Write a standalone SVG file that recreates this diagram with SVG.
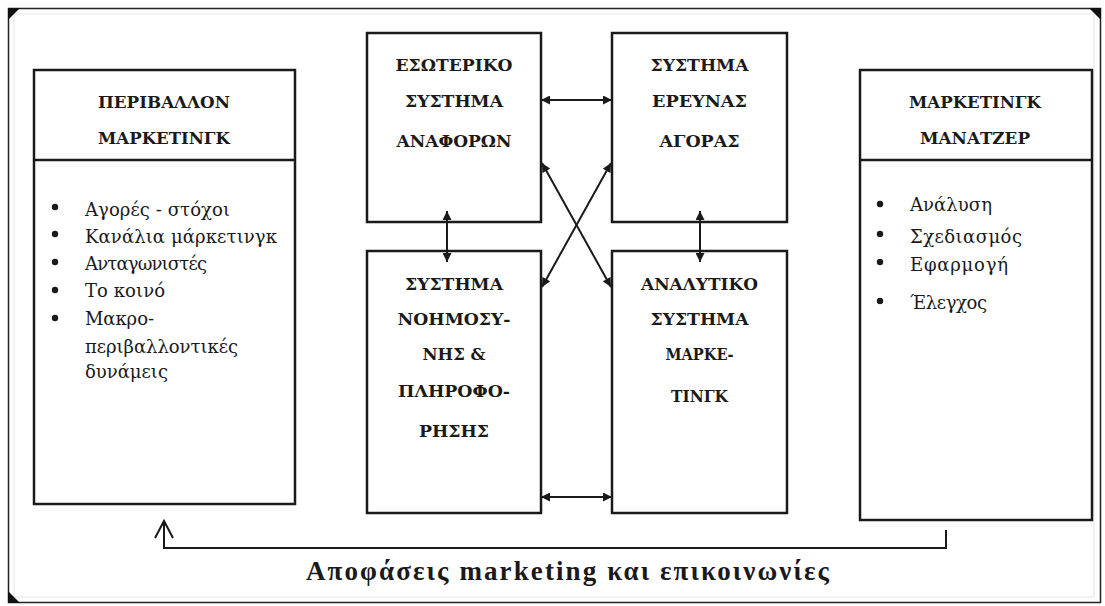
<svg xmlns="http://www.w3.org/2000/svg" width="1105" height="606" viewBox="0 0 1105 606">
  <defs>
    <style>
      .box { fill: #ffffff; stroke: #1a1a1a; stroke-width: 2.5; }
      .div { stroke: #1a1a1a; stroke-width: 2.5; }
      .link { fill: none; stroke: #1a1a1a; stroke-width: 2; }
      .hd { font-family: "DejaVu Serif", "Liberation Serif", serif; font-weight: bold; font-size: 17px; text-anchor: middle; fill: #1a1a1a; }
      .it { font-family: "DejaVu Serif", "Liberation Serif", serif; font-size: 18px; fill: #1a1a1a; }
      .cap { font-family: "Liberation Serif", "DejaVu Serif", serif; font-weight: bold; font-size: 27px; fill: #1a1a1a; }
      .dot { fill: #1a1a1a; }
    </style>
    <marker id="ah" viewBox="0 0 10 10" refX="10" refY="5" markerWidth="10" markerHeight="9" markerUnits="userSpaceOnUse" orient="auto-start-reverse">
      <path d="M0,0 L10,5 L0,10 z" fill="#1a1a1a"/>
    </marker>
  </defs>

  <!-- page background and frame -->
  <rect x="0" y="0" width="1105" height="606" fill="#ffffff"/>
  <rect x="14" y="14" width="1080" height="583" fill="none" stroke="#eeeeee" stroke-width="1.5"/>
  <rect x="8.5" y="8.5" width="1092" height="594" fill="none" stroke="#222222" stroke-width="1.5"/>
  <path d="M8,8 L20,8 L8,20 z" fill="#111"/>
  <path d="M1101,8 L1089,8 L1101,20 z" fill="#111"/>
  <path d="M8,603 L20,603 L8,591 z" fill="#111"/>

  <!-- marketing environment -->
  <g id="environment">
    <rect class="box" x="34" y="70" width="261" height="434"/>
    <line class="div" x1="34" y1="160" x2="295" y2="160"/>
    <text class="hd" x="164" y="108" textLength="132" lengthAdjust="spacingAndGlyphs">ΠΕΡΙΒΑΛΛΟΝ</text>
    <text class="hd" x="164" y="144" textLength="132" lengthAdjust="spacingAndGlyphs">ΜΑΡΚΕΤΙΝΓΚ</text>
    <circle class="dot" cx="55" cy="207" r="3.2"/>
    <circle class="dot" cx="55" cy="234" r="3.2"/>
    <circle class="dot" cx="55" cy="262" r="3.2"/>
    <circle class="dot" cx="55" cy="290" r="3.2"/>
    <circle class="dot" cx="55" cy="318" r="3.2"/>
    <text class="it" x="85" y="216" textLength="145" lengthAdjust="spacing">Αγορές - στόχοι</text>
    <text class="it" x="85" y="243" textLength="192" lengthAdjust="spacing">Κανάλια μάρκετινγκ</text>
    <text class="it" x="85" y="270" textLength="122" lengthAdjust="spacing">Ανταγωνιστές</text>
    <text class="it" x="85" y="297" textLength="80" lengthAdjust="spacing">Το κοινό</text>
    <text class="it" x="85" y="325" textLength="69" lengthAdjust="spacing">Μακρο-</text>
    <text class="it" x="85" y="353" textLength="153" lengthAdjust="spacing">περιβαλλοντικές</text>
    <text class="it" x="85" y="378" textLength="83" lengthAdjust="spacing">δυνάμεις</text>
  </g>

  <!-- internal reporting system -->
  <g id="internal-reports">
    <rect class="box" x="367" y="33" width="174" height="189"/>
    <text class="hd" x="454" y="71" textLength="117" lengthAdjust="spacingAndGlyphs">ΕΣΩΤΕΡΙΚΟ</text>
    <text class="hd" x="454" y="107" textLength="98" lengthAdjust="spacingAndGlyphs">ΣΥΣΤΗΜΑ</text>
    <text class="hd" x="454" y="147" textLength="115" lengthAdjust="spacingAndGlyphs">ΑΝΑΦΟΡΩΝ</text>
  </g>

  <!-- market research system -->
  <g id="market-research">
    <rect class="box" x="612" y="33" width="175" height="189"/>
    <text class="hd" x="699.5" y="71" textLength="98" lengthAdjust="spacingAndGlyphs">ΣΥΣΤΗΜΑ</text>
    <text class="hd" x="699.5" y="107" textLength="95" lengthAdjust="spacingAndGlyphs">ΕΡΕΥΝΑΣ</text>
    <text class="hd" x="699.5" y="147" textLength="80" lengthAdjust="spacingAndGlyphs">ΑΓΟΡΑΣ</text>
  </g>

  <!-- intelligence system -->
  <g id="intelligence">
    <rect class="box" x="367" y="251" width="174" height="262"/>
    <text class="hd" x="454" y="290" textLength="98" lengthAdjust="spacingAndGlyphs">ΣΥΣΤΗΜΑ</text>
    <text class="hd" x="454" y="325" textLength="113" lengthAdjust="spacingAndGlyphs">ΝΟΗΜΟΣΥ-</text>
    <text class="hd" x="454" y="360" textLength="63" lengthAdjust="spacingAndGlyphs">ΝΗΣ &amp;</text>
    <text class="hd" x="454" y="397" textLength="112" lengthAdjust="spacingAndGlyphs">ΠΛΗΡΟΦΟ-</text>
    <text class="hd" x="454" y="437" textLength="70" lengthAdjust="spacingAndGlyphs">ΡΗΣΗΣ</text>
  </g>

  <!-- analytical marketing system -->
  <g id="analytics">
    <rect class="box" x="612" y="251" width="175" height="262"/>
    <text class="hd" x="699.5" y="290" textLength="117" lengthAdjust="spacingAndGlyphs">ΑΝΑΛΥΤΙΚΟ</text>
    <text class="hd" x="699.5" y="325" textLength="98" lengthAdjust="spacingAndGlyphs">ΣΥΣΤΗΜΑ</text>
    <text class="hd" x="699.5" y="360" textLength="68" lengthAdjust="spacingAndGlyphs">ΜΑΡΚΕ-</text>
    <text class="hd" x="699.5" y="402" textLength="57" lengthAdjust="spacingAndGlyphs">ΤΙΝΓΚ</text>
  </g>

  <!-- marketing managers -->
  <g id="managers">
    <rect class="box" x="860" y="70" width="232" height="450"/>
    <line class="div" x1="860" y1="160" x2="1092" y2="160"/>
    <text class="hd" x="975" y="108" textLength="132" lengthAdjust="spacingAndGlyphs">ΜΑΡΚΕΤΙΝΓΚ</text>
    <text class="hd" x="975" y="144" textLength="110" lengthAdjust="spacingAndGlyphs">ΜΑΝΑΤΖΕΡ</text>
    <circle class="dot" cx="880" cy="204" r="3.2"/>
    <circle class="dot" cx="880" cy="234" r="3.2"/>
    <circle class="dot" cx="880" cy="262" r="3.2"/>
    <circle class="dot" cx="880" cy="301" r="3.2"/>
    <text class="it" x="910" y="211" textLength="82" lengthAdjust="spacing">Ανάλυση</text>
    <text class="it" x="910" y="243" textLength="112" lengthAdjust="spacing">Σχεδιασμός</text>
    <text class="it" x="910" y="271" textLength="98" lengthAdjust="spacing">Εφαρμογή</text>
    <text class="it" x="910" y="309" textLength="77" lengthAdjust="spacing">Έλεγχος</text>
  </g>

  <!-- connectors -->
  <g id="connectors">
    <line class="link" x1="541" y1="100" x2="612" y2="100" marker-start="url(#ah)" marker-end="url(#ah)"/>
    <line class="link" x1="541" y1="497" x2="612" y2="497" marker-start="url(#ah)" marker-end="url(#ah)"/>
    <line class="link" x1="447" y1="211" x2="447" y2="262" marker-start="url(#ah)" marker-end="url(#ah)"/>
    <line class="link" x1="700" y1="211" x2="700" y2="262" marker-start="url(#ah)" marker-end="url(#ah)"/>
    <line class="link" x1="542" y1="163" x2="611" y2="287" marker-start="url(#ah)" marker-end="url(#ah)"/>
    <line class="link" x1="611" y1="163" x2="542" y2="287" marker-start="url(#ah)" marker-end="url(#ah)"/>
    <polyline class="link" points="946,530 946,548 164,548 164,522"/>
    <path class="link" d="M155,538 L164,521 L173,538"/>
  </g>

  <text class="cap" x="306" y="580" textLength="523" lengthAdjust="spacing">Αποφάσεις marketing και επικοινωνίες</text>
</svg>
